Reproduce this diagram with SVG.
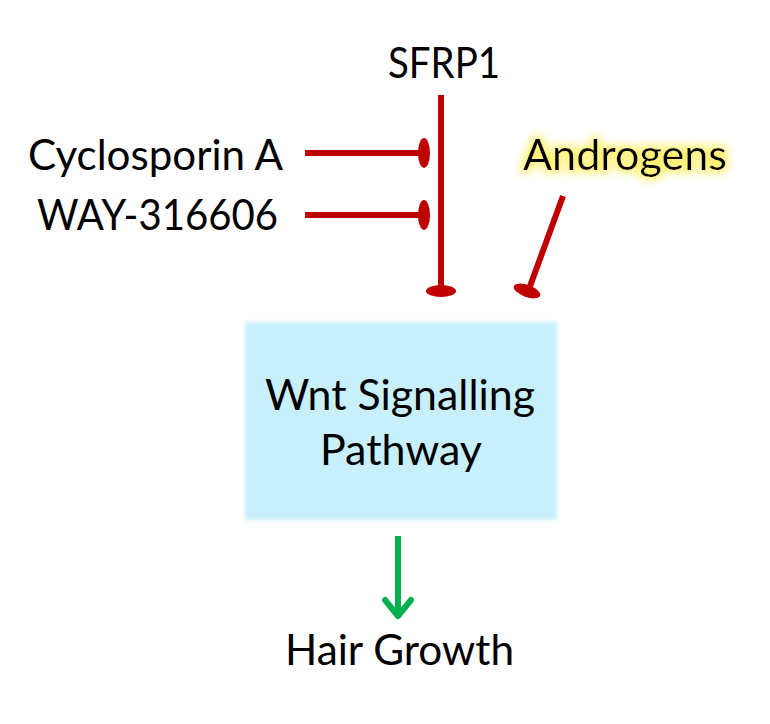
<svg xmlns="http://www.w3.org/2000/svg" width="770" height="724" viewBox="0 0 770 724">
<style>
text{font-family:Lato,"Open Sans","Liberation Sans",sans-serif;font-size:42px;fill:#000}
.inh{stroke:#C00000;stroke-width:6;fill:none}
.cap{fill:#C00000}
</style>
<defs>
<filter id="soft" x="-10%" y="-10%" width="120%" height="120%"><feGaussianBlur stdDeviation="2"/></filter>
<filter id="glow" x="-20%" y="-50%" width="140%" height="200%">
<feMorphology in="SourceAlpha" operator="dilate" radius="3" result="d"/>
<feGaussianBlur in="d" stdDeviation="4" result="b"/>
<feFlood flood-color="#FFF176"/>
<feComposite in2="b" operator="in" result="g"/>
<feMerge><feMergeNode in="g"/><feMergeNode in="SourceGraphic"/></feMerge>
</filter>
</defs>
<g id="wnt">
<rect x="245" y="322" width="312" height="198" fill="#C7EFFC" filter="url(#soft)"/>
<text x="265" y="410" textLength="270" lengthAdjust="spacingAndGlyphs">Wnt Signalling</text>
<text x="320" y="465" textLength="162" lengthAdjust="spacingAndGlyphs">Pathway</text>
</g>
<g id="sfrp1"><text x="388" y="78" textLength="112" lengthAdjust="spacingAndGlyphs">SFRP1</text></g>
<g id="cyclosporin"><text x="28" y="170" textLength="255" lengthAdjust="spacingAndGlyphs">Cyclosporin A</text></g>
<g id="way"><text x="37" y="230" textLength="241" lengthAdjust="spacingAndGlyphs">WAY-316606</text></g>
<g id="androgens"><text x="523" y="170" textLength="204" lengthAdjust="spacingAndGlyphs" filter="url(#glow)">Androgens</text></g>
<g id="hair"><text x="285" y="665" textLength="229" lengthAdjust="spacingAndGlyphs">Hair Growth</text></g>
<g id="connectors">
<line class="inh" x1="441" y1="95" x2="441" y2="290"/>
<ellipse class="cap" cx="441" cy="291" rx="15" ry="6"/>
<line class="inh" x1="305" y1="153" x2="422" y2="153"/>
<ellipse class="cap" cx="424" cy="153" rx="6" ry="15"/>
<line class="inh" x1="305" y1="215" x2="422" y2="215"/>
<ellipse class="cap" cx="424" cy="215" rx="6" ry="15"/>
<line class="inh" x1="563" y1="196" x2="529" y2="289"/>
<ellipse class="cap" cx="527" cy="291" rx="14" ry="6" transform="rotate(20 527 291)"/>
<line x1="398" y1="536" x2="398" y2="616" stroke="#00B050" stroke-width="6"/>
<polyline points="385,600 398,616 411,600" fill="none" stroke="#00B050" stroke-width="6" stroke-linecap="round" stroke-linejoin="round"/>
</g>
</svg>
